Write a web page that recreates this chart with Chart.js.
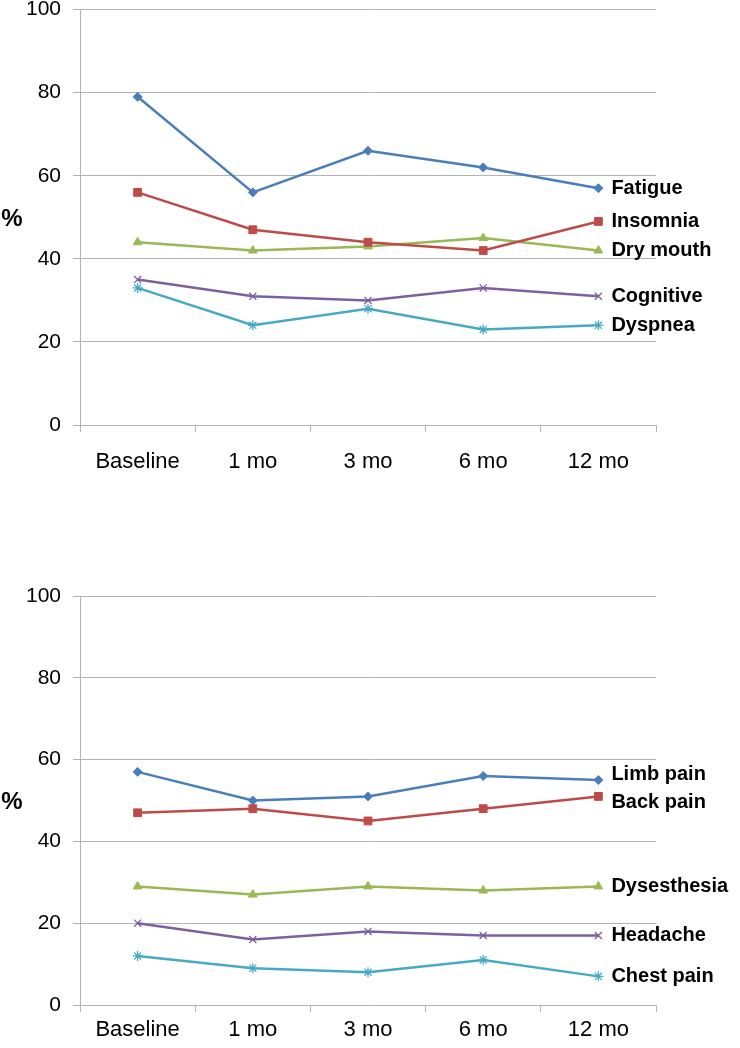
<!DOCTYPE html>
<html>
<head>
<meta charset="utf-8">
<script src="https://cdn.jsdelivr.net/npm/chart.js@4/dist/chart.umd.min.js"></script>
<style>
  body { margin: 0; background: #fff; overflow: hidden; }
  .box { position: absolute; left: 0; width: 740px; }
  #top-box { top: -15px; height: 500px; }
  #bottom-box { top: 560px; height: 488px; }
</style>
</head>
<body>
<div class="box" id="top-box"><canvas id="grafico-topo"></canvas></div>
<div class="box" id="bottom-box"><canvas id="grafico-baixo"></canvas></div>
<script>
// categorias do eixo X
const labels = ['Baseline', '1 mo', '3 mo', '6 mo', '12 mo'];
const yTicks = [0, 20, 40, 60, 80, 100];

// grafico de cima
const fatigue = [79, 56, 66, 62, 57];
const insomnia = [56, 47, 44, 42, 49];
const dryMouth = [44, 42, 43, 45, 42];
const cognitive = [35, 31, 30, 33, 31];
const dyspnea = [33, 24, 28, 23, 24];

// grafico de baixo
const limbPain = [57, 50, 51, 56, 55];
const backPain = [47, 48, 45, 48, 51];
const dysesthesia = [29, 27, 29, 28, 29];
const headache = [20, 16, 18, 17, 17];
const chestPain = [12, 9, 8, 11, 7];

const FONT = '"Liberation Sans", Arial, sans-serif';
const cores = ['#4A7EBB', '#BE4B48', '#98B954', '#7D60A0', '#46AAC5'];
const estilos = [
    { pointStyle: 'rectRot', radius: 4.5, bw: 1 },
    { pointStyle: 'rect', radius: 5.5, bw: 1 },
    { pointStyle: 'triangle', radius: 5, bw: 1 },
    { pointStyle: 'crossRot', radius: 5, bw: 1.3 },
    { pointStyle: 'star', radius: 5, bw: 1.3 }
];

function serie(nome, valores, i) {
    return {
        label: nome,
        data: valores,
        borderColor: cores[i],
        backgroundColor: cores[i],
        borderWidth: 2.5,
        tension: 0,
        pointStyle: estilos[i].pointStyle,
        pointRadius: estilos[i].radius,
        pointBorderWidth: estilos[i].bw,
        pointHoverRadius: estilos[i].radius
    };
}

// rotulos das series ao lado do ultimo ponto
const rotulosPlugin = {
    id: 'rotulos',
    afterDatasetsDraw(chart) {
        const ctx = chart.ctx;
        const itens = chart.data.datasets.map((ds, i) => {
            const p = chart.getDatasetMeta(i).data[ds.data.length - 1];
            return { texto: ds.label, x: p.x + 13, y: p.y };
        }).sort((a, b) => a.y - b.y);
        // separa rotulos muito proximos
        for (let k = 1; k < itens.length; k++) {
            const gap = itens[k].y - itens[k - 1].y;
            if (gap < 28) {
                const d = (28 - gap) / 2;
                itens[k - 1].y -= d;
                itens[k].y += d;
            }
        }
        ctx.save();
        ctx.font = 'bold 20px ' + FONT;
        ctx.fillStyle = '#000';
        ctx.textBaseline = 'middle';
        ctx.textAlign = 'left';
        itens.forEach(it => ctx.fillText(it.texto, it.x, it.y));
        // simbolo % a esquerda
        ctx.font = 'bold 24px ' + FONT;
        ctx.textAlign = 'center';
        const a = chart.chartArea;
        ctx.fillText('%', 12, (a.top + a.bottom) / 2 + 2);
        ctx.restore();
    }
};

function criaGrafico(id, datasets, padTop, xHeight, labelPad) {
    const ctx = document.getElementById(id).getContext('2d');
    return new Chart(ctx, {
        type: 'line',
        data: { labels: labels, datasets: datasets },
        options: {
            responsive: true,
            maintainAspectRatio: false,
            animation: false,
            layout: { padding: { top: padTop, right: 84, left: 0, bottom: 0 } },
            plugins: {
                legend: { display: false },
                tooltip: { enabled: false }
            },
            scales: {
                x: {
                    type: 'category',
                    offset: true,
                    afterFit(scale) { scale.height = xHeight; },
                    grid: {
                        offset: true,
                        drawOnChartArea: false,
                        drawTicks: true,
                        tickLength: 7,
                        color: '#B3B3B3'
                    },
                    border: { color: '#B3B3B3', width: 1 },
                    ticks: {
                        padding: labelPad,
                        color: '#000',
                        font: { family: FONT, size: 22 }
                    }
                },
                y: {
                    min: 0,
                    max: 100,
                    afterFit(scale) { scale.width = 80; },
                    afterBuildTicks(scale) { scale.ticks = yTicks.map(v => ({ value: v })); },
                    grid: { color: '#B3B3B3', tickLength: 7 },
                    border: { color: '#B3B3B3', width: 1 },
                    ticks: {
                        padding: 12,
                        color: '#000',
                        font: { family: FONT, size: 21 }
                    }
                }
            }
        },
        plugins: [rotulosPlugin]
    });
}

document.addEventListener('DOMContentLoaded', function() {
    criaGrafico('grafico-topo', [
        serie('Fatigue', fatigue, 0),
        serie('Insomnia', insomnia, 1),
        serie('Dry mouth', dryMouth, 2),
        serie('Cognitive', cognitive, 3),
        serie('Dyspnea', dyspnea, 4)
    ], 9, 60, 17);

    criaGrafico('grafico-baixo', [
        serie('Limb pain', limbPain, 0),
        serie('Back pain', backPain, 1),
        serie('Dysesthesia', dysesthesia, 2),
        serie('Headache', headache, 3),
        serie('Chest pain', chestPain, 4)
    ], 36, 43, 5);
});
</script>
</body>
</html>
